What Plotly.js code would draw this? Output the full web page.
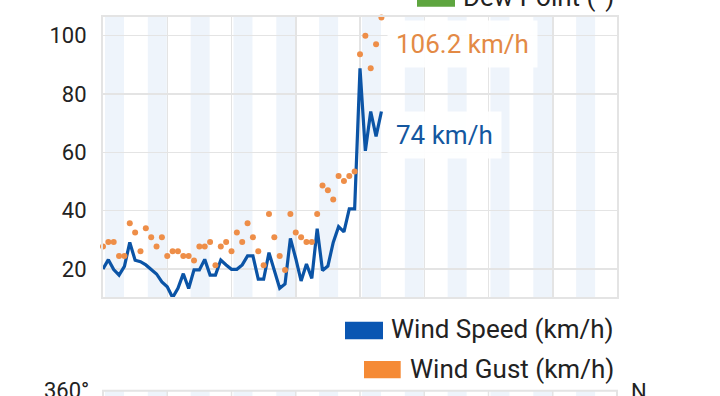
<!DOCTYPE html>
<html>
<head>
<meta charset="utf-8">
<script src="https://cdn.plot.ly/plotly-3.0.1.min.js"></script>
<style>
  html, body { margin: 0; padding: 0; background: #ffffff; overflow: hidden; }
  #chart { width: 720px; height: 396px; }
</style>
</head>
<body>
<div id="chart"></div>
<script>
// ---- Data ----
const timeIndex = [
  0,1,2,3,4,5,6,7,8,9,10,11,12,13,14,15,16,17,18,19,20,21,22,23,24,25,26,
  27,28,29,30,31,32,33,34,35,36,37,38,39,40,41,42,43,44,45,46,47,48,49,50,51,52
];
const windSpeed = [
  20.0, 23.2, 19.8, 17.9, 20.9, 29.1, 23.0, 22.5, 21.4, 19.9, 18.3, 15.6, 13.9, 10.2,
  13.4, 18.4, 13.3, 19.7, 19.7, 23.3, 17.9, 17.9, 23.1, 21.4, 19.9, 19.9, 21.4,
  24.5, 24.5, 16.5, 16.5, 25.6, 19.7, 13.4, 14.9, 30.5, 23.6, 15.9, 21.7, 16.8,
  33.8, 19.5, 21.0, 29.1, 34.5, 32.7, 40.6, 40.6, 88.8, 60.5, 74.0, 65.5, 74.0
];
const windGust = [
  27.7, 29.3, 29.3, 24.5, 24.5, 35.7, 32.5, 26.1, 34.0, 30.9, 27.7, 30.9, 24.5, 26.1,
  26.1, 24.5, 24.5, 22.9, 27.7, 27.7, 29.3, 21.3, 27.7, 29.3, 26.1, 32.5, 29.3,
  35.7, 30.9, 26.1, 21.3, 38.9, 30.9, 24.5, 19.7, 38.9, 32.5, 30.9, 29.3, 29.3,
  38.9, 48.6, 47.0, 43.8, 51.9, 50.2, 51.9, 53.4, 93.6, 100.0, 88.8, 97.1, 106.2
];
const yTickValues = [20, 40, 60, 80, 100];
const seriesNames = ['Wind Speed (km/h)', 'Wind Gust (km/h)'];
const otherLegendName = 'Dew Point (°)';
const nextChartTopTick = '360°';
const nextChartRightTick = 'N';
const unit = 'km/h';

// ---- Styling / geometry ----
const W = 720, H = 396;
const L = 103, R = 617, T = 17, B = 297;
const px2x = p => (p - L) / (R - L);
const py2y = p => (B - p) / (B - T);
const SPEED = '#0B54A6';
const GUST = '#EE8E48';
const GUST_SWATCH = '#F58A35';
const SPEED_SWATCH = '#0A56B2';
const DEW = '#5EA53F';
const GRID = '#E4E4E4';
const BAND = '#EEF4FB';
const TXT = '#222222';
const FONT = 'Roboto, "Noto Sans", sans-serif';

const shapes = [];
// background bands (x in axis units)
for (let k = 0; k < 12; k++) {
  const s = 0.37 + 8 * k;
  shapes.push({type: 'rect', xref: 'x', yref: 'paper', x0: s, x1: s + 3.55, y0: 0, y1: 1,
    fillcolor: BAND, line: {width: 0}, layer: 'below'});
}
// legend swatches
shapes.push({type: 'rect', xref: 'paper', yref: 'paper', x0: px2x(345), x1: px2x(383),
  y0: py2y(339.3), y1: py2y(321.7), fillcolor: SPEED_SWATCH, line: {width: 0}});
shapes.push({type: 'rect', xref: 'paper', yref: 'paper', x0: px2x(364), x1: px2x(400.7),
  y0: py2y(378.3), y1: py2y(361), fillcolor: GUST_SWATCH, line: {width: 0}});
shapes.push({type: 'rect', xref: 'paper', yref: 'paper', x0: px2x(417), x1: px2x(455),
  y0: py2y(6.7), y1: py2y(-11), fillcolor: DEW, line: {width: 0}});
// next chart (partially visible at the bottom)
const nextTop = 390.7;
for (let k = 0; k < 12; k++) {
  const s = 0.37 + 8 * k;
  shapes.push({type: 'rect', xref: 'x', yref: 'paper', x0: s, x1: s + 3.55,
    y0: py2y(440), y1: py2y(nextTop), fillcolor: BAND, line: {width: 0}, layer: 'below'});
}
for (let g = 12; g < 96; g += 12) {
  shapes.push({type: 'line', xref: 'x', yref: 'paper', x0: g, x1: g,
    y0: py2y(nextTop), y1: py2y(440), line: {color: GRID, width: 1.5}});
}
shapes.push({type: 'rect', xref: 'paper', yref: 'paper', x0: 0, x1: 1,
  y0: py2y(440), y1: py2y(nextTop), line: {color: GRID, width: 2}});

const lastI = timeIndex.length - 1;
const annotations = [
  {xref: 'paper', yref: 'paper', x: px2x(616), y: py2y(329), xanchor: 'right', yanchor: 'middle',
   text: seriesNames[0], showarrow: false, font: {family: FONT, size: 26, color: TXT}},
  {xref: 'paper', yref: 'paper', x: px2x(616), y: py2y(368.5), xanchor: 'right', yanchor: 'middle',
   text: seriesNames[1], showarrow: false, font: {family: FONT, size: 26, color: TXT}},
  {xref: 'paper', yref: 'paper', x: px2x(616), y: py2y(-3), xanchor: 'right', yanchor: 'middle',
   text: otherLegendName, showarrow: false, font: {family: FONT, size: 26, color: TXT}},
  {xref: 'paper', yref: 'paper', x: px2x(91), y: py2y(nextTop), xanchor: 'right', yanchor: 'middle',
   text: nextChartTopTick, showarrow: false, font: {family: FONT, size: 22, color: TXT}},
  {xref: 'paper', yref: 'paper', x: px2x(629), y: py2y(nextTop + 1), xanchor: 'left', yanchor: 'middle',
   text: nextChartRightTick, showarrow: false, font: {family: FONT, size: 22, color: TXT}},
  {xref: 'x', yref: 'y', x: timeIndex[lastI], y: windGust[lastI], xanchor: 'left', yanchor: 'middle',
   xshift: 6, yshift: -26, text: windGust[lastI] + ' ' + unit, showarrow: false,
   bgcolor: 'rgba(255,255,255,0.92)', borderpad: 8,
   font: {family: FONT, size: 26, color: '#E38A45'}},
  {xref: 'x', yref: 'y', x: timeIndex[lastI], y: windSpeed[lastI], xanchor: 'left', yanchor: 'middle',
   xshift: 6, yshift: -23, text: windSpeed[lastI] + ' ' + unit, showarrow: false,
   bgcolor: 'rgba(255,255,255,0.92)', borderpad: 8,
   font: {family: FONT, size: 26, color: '#14579F'}}
];

const traces = [
  {x: timeIndex, y: windSpeed, type: 'scatter', mode: 'lines', name: seriesNames[0],
   line: {color: SPEED, width: 3.2}, cliponaxis: false},
  {x: timeIndex, y: windGust, type: 'scatter', mode: 'markers', name: seriesNames[1],
   marker: {color: GUST, size: 6}, cliponaxis: false}
];

const layout = {
  width: W, height: H,
  margin: {l: L, r: W - R, t: T, b: H - B, pad: 0},
  paper_bgcolor: '#ffffff', plot_bgcolor: '#ffffff',
  showlegend: false,
  font: {family: FONT, color: TXT},
  xaxis: {range: [0, 96], tick0: 0, dtick: 12, showticklabels: false, ticks: '',
    showgrid: true, gridcolor: GRID, gridwidth: 1.5, zeroline: false,
    showline: true, mirror: true, linecolor: GRID, linewidth: 2},
  yaxis: {range: [10.4, 106.4], tickvals: yTickValues, ticktext: yTickValues.map(String),
    ticks: '', ticklabelstandoff: 10, tickfont: {family: FONT, size: 22, color: TXT},
    showgrid: true, gridcolor: GRID, gridwidth: 1.5, zeroline: false,
    showline: true, mirror: true, linecolor: GRID, linewidth: 2},
  shapes: shapes,
  annotations: annotations
};

Plotly.newPlot('chart', traces, layout, {staticPlot: true, displayModeBar: false});
</script>
</body>
</html>
